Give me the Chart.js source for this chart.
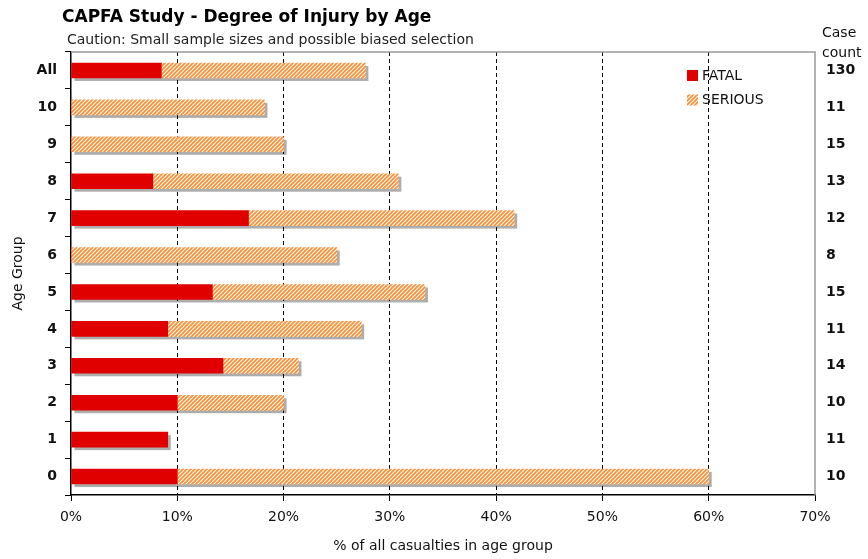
<!DOCTYPE html>
<html>
<head>
<meta charset="utf-8">
<script src="https://cdn.jsdelivr.net/npm/chart.js@4"></script>
<style>
  html, body { margin: 0; padding: 0; background: #fff; }
  #wrap { width: 868px; height: 559px; }
</style>
</head>
<body>
<div id="wrap"><canvas id="injuryChart" width="868" height="559"></canvas></div>
<script>
// age groups, top to bottom
const categories = ['All', '10', '9', '8', '7', '6', '5', '4', '3', '2', '1', '0'];
// % of casualties in each age group
const fatal = [8.5, 0, 0, 7.7, 16.7, 0, 13.3, 9.1, 14.3, 10, 9.1, 10];
const serious = [19.2, 18.2, 20, 23.1, 25, 25, 20, 18.2, 7.1, 10, 0, 50];
// case count shown on the right
const caseCounts = ['130', '11', '15', '13', '12', '8', '15', '11', '14', '10', '11', '10'];
const xTicks = [0, 10, 20, 30, 40, 50, 60, 70];

const FONT = 'DejaVu Sans, Verdana, sans-serif';
const RED = '#e00000';

// orange diagonal hatch
function makeHatch() {
  const c = document.createElement('canvas');
  c.width = 4; c.height = 4;
  const g = c.getContext('2d');
  g.fillStyle = '#ffffff';
  g.fillRect(0, 0, 4, 4);
  g.strokeStyle = '#ff8a2a';
  g.lineWidth = 1.6;
  g.beginPath();
  g.moveTo(-1, 5); g.lineTo(5, -1);
  g.moveTo(-1, 1); g.lineTo(1, -1);
  g.moveTo(3, 5); g.lineTo(5, 3);
  g.stroke();
  return g.createPattern(c, 'repeat');
}
const hatch = makeHatch();

// grey drop shadow under each bar
const shadowPlugin = {
  id: 'barShadow',
  beforeDatasetsDraw(chart) {
    const ctx = chart.ctx;
    ctx.save();
    ctx.fillStyle = 'rgba(0,0,0,0.32)';
    chart.data.datasets.forEach((ds, i) => {
      chart.getDatasetMeta(i).data.forEach(bar => {
        const w = bar.x - bar.base;
        if (w <= 0) return;
        ctx.fillRect(bar.base + 3, bar.y - bar.height / 2 + 3, w, bar.height);
      });
    });
    ctx.restore();
  }
};

// titles, frame, legend, case count heading
const decorPlugin = {
  id: 'decor',
  afterDraw(chart) {
    const ctx = chart.ctx;
    const a = chart.chartArea;
    ctx.save();
    // grey frame top and right
    ctx.strokeStyle = '#999';
    ctx.lineWidth = 1.5;
    ctx.beginPath();
    ctx.moveTo(a.left, a.top);
    ctx.lineTo(a.right, a.top);
    ctx.lineTo(a.right, a.bottom);
    ctx.stroke();

    ctx.fillStyle = '#000';
    ctx.textBaseline = 'middle';
    ctx.textAlign = 'left';
    ctx.font = 'bold 17px ' + FONT;
    ctx.fillText('CAPFA Study - Degree of Injury by Age', 62, 18);
    ctx.font = '14px ' + FONT;
    ctx.fillStyle = '#222';
    ctx.fillText('Caution: Small sample sizes and possible biased selection', 67, 40);

    ctx.fillStyle = '#111';
    ctx.font = '14px ' + FONT;
    ctx.fillText('Case', 822, 33);
    ctx.fillText('count', 822, 53);

    // legend
    const items = chart.data.datasets;
    items.forEach((ds, i) => {
      const y = 70 + i * 24.5;
      ctx.fillStyle = ds.backgroundColor;
      ctx.fillRect(687, y, 11, 11);
      ctx.fillStyle = '#111';
      ctx.font = '14px ' + FONT;
      ctx.fillText(ds.label, 702, y + 6);
    });
    ctx.restore();
  }
};

const ctx = document.getElementById('injuryChart').getContext('2d');
new Chart(ctx, {
  type: 'bar',
  data: {
    labels: categories,
    datasets: [
      { label: 'FATAL', data: fatal, backgroundColor: RED, barThickness: 15 },
      { label: 'SERIOUS', data: serious, backgroundColor: hatch, barThickness: 15 }
    ]
  },
  options: {
    indexAxis: 'y',
    responsive: false,
    animation: false,
    layout: { padding: { top: 52, left: 0, right: 0, bottom: 0 } },
    plugins: {
      legend: { display: false },
      tooltip: { enabled: false }
    },
    scales: {
      x: {
        stacked: true,
        min: 0,
        max: 70,
        afterBuildTicks: s => { s.ticks = xTicks.map(v => ({ value: v })); },
        afterFit: s => { s.height = 64; },
        ticks: {
          callback: v => v + '%',
          color: '#111',
          font: { family: FONT, size: 14 },
          padding: 8,
          maxRotation: 0
        },
        grid: {
          color: c => (c.tick && (c.tick.value === 0 || c.tick.value === 70)) ? 'rgba(0,0,0,0)' : '#000',
          tickColor: '#000',
          tickLength: 6,
          tickBorderDash: [],
          lineWidth: 1
        },
        border: { display: true, color: '#000', width: 1.5, dash: [4, 3] },
        title: {
          display: true,
          text: '% of all casualties in age group',
          color: '#111',
          font: { family: FONT, size: 14 },
          padding: { top: 4, bottom: 4 }
        }
      },
      y: {
        stacked: true,
        afterFit: s => { s.width = 71; },
        ticks: {
          color: '#111',
          font: { family: FONT, size: 14, weight: 'bold' },
          padding: 8
        },
        grid: {
          display: true,
          drawOnChartArea: false,
          drawTicks: true,
          tickLength: 6,
          color: '#000'
        },
        border: { display: true, color: '#000', width: 1.5 },
        title: {
          display: true,
          text: 'Age Group',
          color: '#111',
          font: { family: FONT, size: 14 },
          padding: { top: 10, bottom: 0 }
        }
      },
      y2: {
        type: 'category',
        labels: caseCounts,
        position: 'right',
        offset: true,
        afterFit: s => { s.width = 53; },
        ticks: {
          color: '#111',
          font: { family: FONT, size: 14, weight: 'bold' },
          padding: 3
        },
        grid: { display: false },
        border: { display: false }
      }
    }
  },
  plugins: [shadowPlugin, decorPlugin]
});
</script>
</body>
</html>
